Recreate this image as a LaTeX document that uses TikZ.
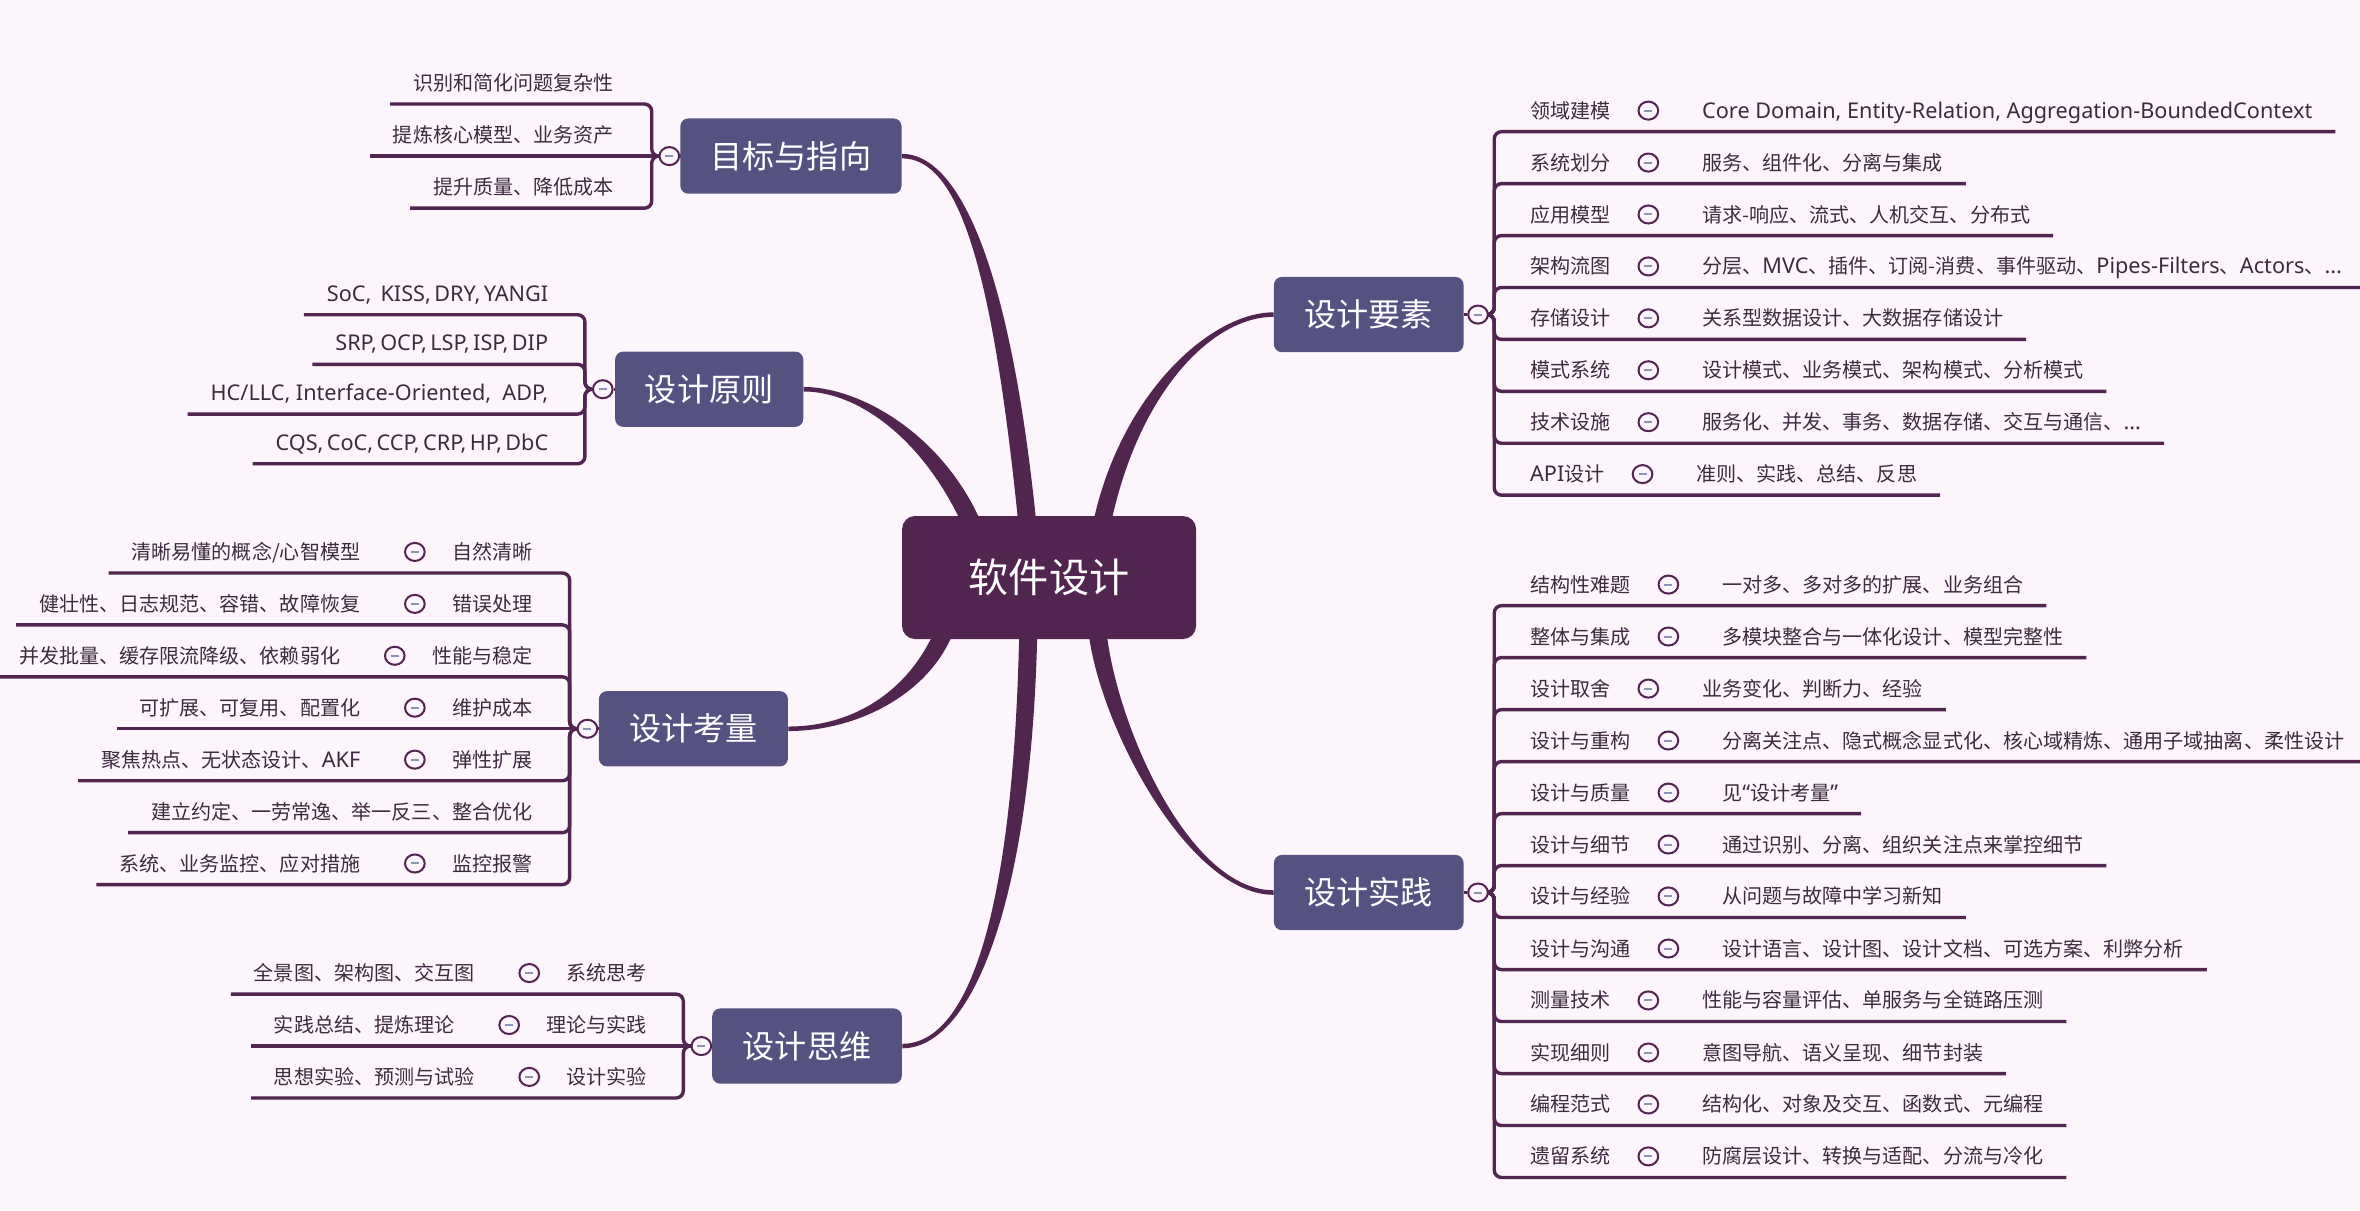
\documentclass[tikz,border=0pt]{standalone}
\usepackage{fontspec}
\setmainfont{Noto Sans CJK SC}
\newfontfamily\latq[Scale=1.08]{Noto Sans}
\usetikzlibrary{calc,shapes.geometric}
\pgfdeclarelayer{back}
\pgfdeclarelayer{lines}
\pgfsetlayers{back,lines,main}
\definecolor{bg}{RGB}{252,246,252}
\definecolor{dk}{RGB}{82,36,80}
\definecolor{mainc}{RGB}{85,82,130}
\definecolor{txt}{RGB}{62,42,62}
\definecolor{mn}{RGB}{140,147,181}
\newcommand\cmk{,\kern1.7pt}

\newcommand\lrow[5]{%
 \node[lab,anchor=base east] (#1l) at (#3,#2-9) {#4};
 \node[dot] (#1c) at ($(#1l.base west)+(-24.5,-5)$) {};
 \node[lab,anchor=base east] (#1d) at ($(#1c.center)+(-36,5)$) {#5};
 \coordinate (#1e) at ($(#1d.base west)+(-15,9)$);}
\newcommand\lone[4]{%
 \node[lab,anchor=base east] (#1l) at (#3,#2-9) {#4};
 \coordinate (#1e) at ($(#1l.base west)+(-15,9)$);}
\newcommand\rrow[4]{%
 \node[lab,anchor=base west] (#1l) at (1016.3,#2-9) {#3};
 \node[dot] (#1c) at ($(#1l.base east)+(25,-5)$) {};
 \node[lab,anchor=base west] (#1d) at ($(#1c.center)+(35.5,5)$) {#4};
 \coordinate (#1e) at ($(#1d.base east)+(15,9)$);}
\newcommand\taper[6]{%
 \fill[dk] ($(#1)+(#5)$) .. controls ($(#1)+(#2)+(#5)$) and ($(#4)+(#3)+(#6)$) .. ($(#4)+(#6)$)
  -- ($(#4)-(#6)$) .. controls ($(#4)+(#3)-(#6)$) and ($(#1)+(#2)-(#5)$) .. ($(#1)-(#5)$) -- cycle;}

\begin{document}
\begin{tikzpicture}[x=0.75pt,y=-0.75pt,
 lab/.style={inner sep=0pt, text=txt, font=\fontsize{10pt}{12pt}\selectfont},
 mainbox/.style={fill=mainc, rounded corners=4pt, text=white, font=\fontsize{16pt}{19pt}\selectfont, minimum height=37.5pt, inner sep=0pt},
 rootbox/.style={fill=dk, rounded corners=6.5pt, text=white, font=\fontsize{20pt}{24pt}\selectfont, minimum width=146.5pt, minimum height=61.3pt, inner sep=0pt},
 br/.style={draw=dk, line width=1.7pt, rounded corners=3.6pt},
 dot/.style={ellipse, draw=dk, line width=1pt, fill=bg, inner sep=0pt, minimum width=9.8pt, minimum height=9pt,
   path picture={\draw[mn, line width=1pt] ([xshift=-2pt]path picture bounding box.center) -- ([xshift=2pt]path picture bounding box.center);}}]

\useasboundingbox (0,0) rectangle (1568,804);
\begin{pgfonlayer}{back}
\fill[bg] (0,0) rectangle (1568,804);
\end{pgfonlayer}

% root and main topics
\node[rootbox] (root) at (697,383.7) {软件设计};
\node[mainbox, minimum width=110.25pt] (goal) at (525.5,103.7) {目标与指向};
\node[mainbox, minimum width=93.75pt] (prin) at (471.2,258.6) {设计原则};
\node[mainbox, minimum width=94.2pt] (cons) at (460.7,484.2) {设计考量};
\node[mainbox, minimum width=94.5pt] (think) at (536.2,695) {设计思维};
\node[mainbox, minimum width=94.5pt] (elem) at (909.4,209) {设计要素};
\node[mainbox, minimum width=94.5pt] (prac) at (909.4,593) {设计实践};

% collapse circles
\node[dot] (gc) at (444.7,103.7) {};
\node[dot] (pc) at (400.5,258.6) {};
\node[dot] (cc) at (390.3,484.2) {};
\node[dot] (tc) at (466,695) {};
\node[dot] (ec) at (982,209) {};
\node[dot] (xc) at (982,593) {};

\coordinate (Jg) at (433,103.7);
\coordinate (Jp) at (388.6,258.6);
\coordinate (Jc) at (378.5,484.2);
\coordinate (Jt) at (454,695);
\coordinate (Je) at (992.8,209);
\coordinate (Jx) at (992.8,593);

% ends of the main curves inside the root
\coordinate (rgoal) at ($(root.north west)+(83.7,7.1)$);
\coordinate (rprin) at ($(root.north west)+(47.2,6.6)$);
\coordinate (relem) at ($(root.north west)+(132.7,7.1)$);
\coordinate (rcons) at ($(root.south west)+(28.7,-6.6)$);
\coordinate (rthink) at ($(root.south west)+(84.2,-8.6)$);
\coordinate (rprac) at ($(root.south west)+(129.7,-8.6)$);

% ---- goal
\lone{G1}{69.1}{408}{识别和简化问题复杂性}
\lone{G2}{103.7}{408}{提炼核心模型、业务资产}
\lone{G3}{138.3}{408}{提升质量、降低成本}
% ---- principles
\lone{P1}{209.1}{364.5}{\latq SoC\cmk\ KISS\cmk DRY\cmk YANGI}
\lone{P2}{242.1}{364.5}{\latq SRP\cmk OCP\cmk LSP\cmk ISP\cmk DIP}
\lone{P3}{275.1}{364.5}{\latq HC/LLC,\ Interface-Oriented,\ \ ADP,}
\lone{P4}{308.1}{364.5}{\latq CQS\cmk CoC\cmk CCP\cmk CRP\cmk HP\cmk DbC}
% ---- considerations
\lrow{C1}{380.7}{354}{自然清晰}{清晰易懂的概念/心智模型}
\lrow{C2}{415.2}{354}{错误处理}{健壮性、日志规范、容错、故障恢复}
\lrow{C3}{449.7}{354}{性能与稳定}{并发批量、缓存限流降级、依赖弱化}
\lrow{C4}{484.2}{354}{维护成本}{可扩展、可复用、配置化}
\lrow{C5}{518.7}{354}{弹性扩展}{聚焦热点、无状态设计、{\latq AKF}}
\lone{C6}{553.2}{354}{建立约定、一劳常逸、举一反三、整合优化}
\lrow{C7}{587.7}{354}{监控报警}{系统、业务监控、应对措施}
% ---- thinking
\lrow{T1}{660.5}{430}{系统思考}{全景图、架构图、交互图}
\lrow{T2}{695}{430}{理论与实践}{实践总结、提炼理论}
\lrow{T3}{729.5}{430}{设计实验}{思想实验、预测与试验}
% ---- elements
\rrow{E1}{87.5}{领域建模}{\latq Core Domain,\ Entity-Relation,\ Aggregation-BoundedContext}
\rrow{E2}{122}{系统划分}{服务、组件化、分离与集成}
\rrow{E3}{156.5}{应用模型}{请求-响应、流式、人机交互、分布式}
\rrow{E4}{191}{架构流图}{分层、{\latq MVC}、插件、订阅-消费、事件驱动、{\latq Pipes-Filters}、{\latq Actors}、{\latq ...}}
\rrow{E5}{225.5}{存储设计}{关系型数据设计、大数据存储设计}
\rrow{E6}{260}{模式系统}{设计模式、业务模式、架构模式、分析模式}
\rrow{E7}{294.5}{技术设施}{服务化、并发、事务、数据存储、交互与通信、{\latq ...}}
\rrow{E8}{329}{{\latq API}设计}{准则、实践、总结、反思}
% ---- practice
\rrow{X1}{402.4}{结构性难题}{一对多、多对多的扩展、业务组合}
\rrow{X2}{436.9}{整体与集成}{多模块整合与一体化设计、模型完整性}
\rrow{X3}{471.5}{设计取舍}{业务变化、判断力、经验}
\rrow{X4}{506}{设计与重构}{分离关注点、隐式概念显式化、核心域精炼、通用子域抽离、柔性设计}
\rrow{X5}{540.6}{设计与质量}{见{\latq “}设计考量{\latq ”}}
\rrow{X6}{575.1}{设计与细节}{通过识别、分离、组织关注点来掌控细节}
\rrow{X7}{609.6}{设计与经验}{从问题与故障中学习新知}
\rrow{X8}{644.2}{设计与沟通}{设计语言、设计图、设计文档、可选方案、利弊分析}
\rrow{X9}{678.7}{测量技术}{性能与容量评估、单服务与全链路压测}
\rrow{X10}{713.3}{实现细则}{意图导航、语义呈现、细节封装}
\rrow{X11}{747.8}{编程范式}{结构化、对象及交互、函数式、元编程}
\rrow{X12}{782.3}{遗留系统}{防腐层设计、转换与适配、分流与冷化}

\begin{pgfonlayer}{lines}
% tapered main connectors
\taper{goal.east}{35.8,0}{-18,-180}{rgoal}{0,-1.5}{6,0}
\taper{prin.east}{36.4,0}{-26.5,-59.5}{rprin}{0,-1.5}{5.5,-2.5}
\taper{elem.west}{-41.5,0}{18,-88}{relem}{0,-1.5}{-6,0}
\taper{cons.east}{46.5,0}{-16,40}{rcons}{0,1.5}{5.4,2.5}
\taper{think.east}{45.8,0}{-3.5,184}{rthink}{0,1.5}{6,0}
\taper{prac.west}{-56.5,0}{6,64}{rprac}{0,1.5}{-6,0}
% stubs box -> circle
\draw[br] (goal.west) -- (gc.east);
\draw[br] (prin.west) -- (pc.east);
\draw[br] (cons.west) -- (cc.east);
\draw[br] (think.west) -- (tc.east);
\draw[br] (elem.east) -- (ec.west);
\draw[br] (prac.east) -- (xc.west);
% branches
\foreach \n in {G1e,G3e} {\draw[br] (gc.west) -- (Jg) |- (\n);}
\draw[br] (gc.west) -- (G2e);
\foreach \n in {P1e,P2e,P3e,P4e} {\draw[br] (pc.west) -- (Jp) |- (\n);}
\foreach \n in {C1e,C2e,C3e,C5e,C6e,C7e} {\draw[br] (cc.west) -- (Jc) |- (\n);}
\draw[br] (cc.west) -- (C4e);
\foreach \n in {T1e,T3e} {\draw[br] (tc.west) -- (Jt) |- (\n);}
\draw[br] (tc.west) -- (T2e);
\foreach \n in {E1e,E2e,E3e,E4e,E5e,E6e,E7e,E8e} {\draw[br] (ec.east) -- (Je) |- (\n);}
\foreach \n in {X1e,X2e,X3e,X4e,X5e,X6e,X7e,X8e,X9e,X10e,X11e,X12e} {\draw[br] (xc.east) -- (Jx) |- (\n);}
\end{pgfonlayer}
\end{tikzpicture}
\end{document}
